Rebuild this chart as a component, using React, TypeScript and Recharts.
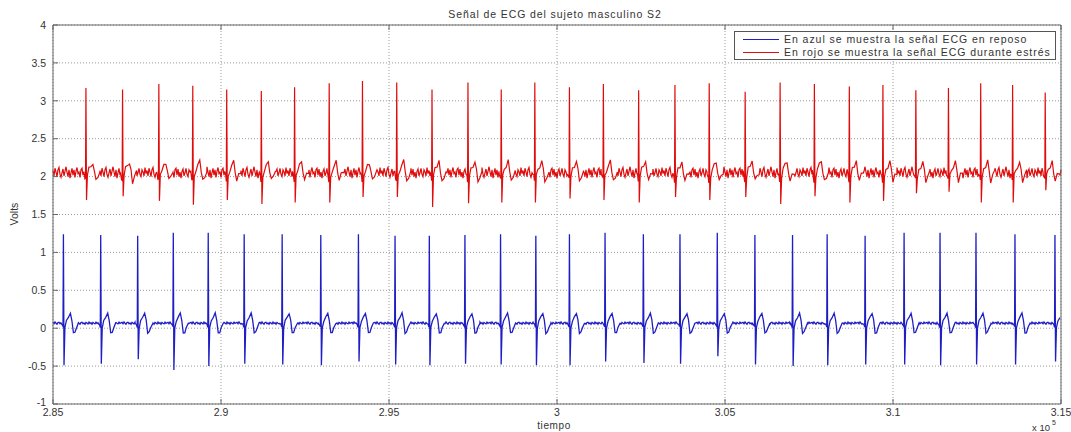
import React from 'react';
import { LineChart, Line, XAxis, YAxis, CartesianGrid, Legend } from 'recharts';

// ---------- data ----------
const xTicks = [2.85, 2.9, 2.95, 3, 3.05, 3.1, 3.15];
const yTicks = [-1, -0.5, 0, 0.5, 1, 1.5, 2, 2.5, 3, 3.5, 4];

const redBeatTimes = [2.8598, 2.8707, 2.8815, 2.8916, 2.9017, 2.912, 2.9219, 2.9322, 2.9421, 2.9523, 2.9628, 2.9735, 2.9834, 2.9934, 3.0037, 3.0138, 3.0243, 3.0351, 3.0453, 3.056, 3.0664, 3.0766, 3.087, 3.097, 3.1068, 3.1165, 3.1261, 3.1356, 3.1453];
const redPeaks = [3.17, 3.15, 3.22, 3.2, 3.15, 3.13, 3.18, 3.23, 3.26, 3.24, 3.15, 3.24, 3.15, 3.24, 3.18, 3.22, 3.14, 3.21, 3.23, 3.12, 3.24, 3.22, 3.19, 3.21, 3.14, 3.17, 3.23, 3.21, 3.11];
const redDips = [1.69, 1.74, 1.68, 1.63, 1.69, 1.64, 1.66, 1.66, 1.73, 1.73, 1.6, 1.65, 1.66, 1.66, 1.71, 1.69, 1.66, 1.73, 1.69, 1.73, 1.64, 1.74, 1.66, 1.68, 1.78, 1.8, 1.66, 1.66, 1.82];
const redBaseline = 2.05;

const blueBeatTimes = [2.8531, 2.8642, 2.8752, 2.8858, 2.8962, 2.9069, 2.9182, 2.9297, 2.9409, 2.9518, 2.962, 2.9726, 2.9832, 2.9937, 3.0037, 3.0143, 3.0257, 3.0366, 3.0477, 3.0589, 3.0701, 3.0804, 3.0917, 3.1033, 3.114, 3.1247, 3.1363, 3.1482];
const bluePeaks = [1.24, 1.23, 1.22, 1.26, 1.26, 1.24, 1.24, 1.23, 1.24, 1.22, 1.22, 1.23, 1.24, 1.22, 1.24, 1.26, 1.24, 1.24, 1.26, 1.23, 1.23, 1.24, 1.22, 1.26, 1.26, 1.26, 1.24, 1.23];
const blueDips = [-0.49, -0.47, -0.41, -0.55, -0.5, -0.47, -0.48, -0.49, -0.44, -0.48, -0.49, -0.47, -0.48, -0.49, -0.49, -0.44, -0.46, -0.47, -0.37, -0.48, -0.5, -0.49, -0.48, -0.48, -0.49, -0.48, -0.48, -0.44];
const blueBaseline = 0.065;

// beat waveform: offsets in screen-pixel steps, values relative to baseline
// (null marks the R peak and S dip, taken from the per-beat arrays)
const redShapeSteps = [-2, -1, -0.4, 0, 0.6, 1.5, 3, 5, 7, 8.5, 10, 12, 14];
const redShapeValues = [0, -0.06, -0.1, null, null, -0.05, 0.04, 0.09, 0.14, 0.02, -0.11, -0.04, 0];
const blueShapeSteps = [-2.5, -1.2, -0.4, 0, 0.6, 1.5, 3, 5, 7, 8.5, 10, 11.5, 13, 15];
const blueShapeValues = [0, -0.02, -0.05, null, null, -0.06, 0.03, 0.08, 0.13, 0.04, -0.13, -0.12, -0.06, 0];

// hand-read baseline ripple
const redRipple = [0.03, -0.04, 0.06, 0.01, -0.05, 0.04, 0.07, -0.02, -0.06, 0.0, 0.05, -0.04, 0.02, 0.08, 0.01, -0.05, 0.04, -0.07, 0.0, 0.06, -0.03, 0.04, -0.06, 0.02, 0.07, -0.01, 0.01, -0.06, 0.04, 0.06, -0.03, 0.05, -0.05, 0.01, -0.07, 0.02, 0.05, -0.04, 0.0, 0.06, -0.02, -0.05, 0.04, 0.01, -0.04, 0.07, -0.01];
const blueRipple = [0.012, -0.006, 0.017, 0.0, -0.012, 0.009, 0.014, -0.007, 0.004, -0.014, 0.011, 0.002, -0.009, 0.016, -0.004, 0.007, -0.012, 0.01, 0.0, -0.007, 0.014, -0.002, 0.006];

const legendLabels = ['En azul se muestra la señal ECG en reposo', 'En rojo se muestra la señal ECG durante estrés'];
const titleText = 'Señal de ECG del sujeto masculino S2';

// ---------- styling ----------
const RED = '#e00c0c';
const BLUE = '#1e1ec4';
const AXIS = '#666';
const TEXT = '#333';
const FONT = '"Liberation Sans", Arial, Helvetica, sans-serif';
const X0 = 2.85;
const X1 = 3.15;
const STEP = (X1 - X0) / 1008;

type Row = { x: number; red?: number; blue?: number };

function buildSeries(
  key: 'red' | 'blue',
  times: number[],
  peaks: number[],
  dips: number[],
  base: number,
  steps: number[],
  values: (number | null)[],
  ripple: number[]
): Row[] {
  const rows: Row[] = [];
  const lo = steps[0] * STEP;
  const hi = steps[steps.length - 1] * STEP;
  for (let i = 0; i <= 1008; i++) {
    const x = X0 + i * STEP;
    if (times.some((t) => x >= t + lo && x <= t + hi)) continue;
    rows.push({ x, [key]: base + ripple[i % ripple.length] });
  }
  times.forEach((t, b) => {
    let spike = 0;
    steps.forEach((s, k) => {
      const x = t + s * STEP;
      if (x < X0 || x > X1) return;
      let v: number;
      const rel = values[k];
      if (rel === null) {
        v = spike === 0 ? peaks[b] : dips[b];
        spike++;
      } else {
        v = base + rel + 0.5 * ripple[(b * 7 + k) % ripple.length];
      }
      rows.push({ x, [key]: v });
    });
  });
  return rows;
}

const data: Row[] = [
  ...buildSeries('red', redBeatTimes, redPeaks, redDips, redBaseline, redShapeSteps, redShapeValues, redRipple),
  ...buildSeries('blue', blueBeatTimes, bluePeaks, blueDips, blueBaseline, blueShapeSteps, blueShapeValues, blueRipple),
].sort((a, b) => a.x - b.x);

const fmt = (v: number) => String(Number(v.toFixed(2)));

const BottomTick = (p: any) => (
  <g>
    <line x1={p.x} y1={p.y} x2={p.x} y2={p.y - 5} stroke={AXIS} />
    <text x={p.x} y={p.y + 12} textAnchor="middle" fontSize={10.5} fill={TEXT} fontFamily={FONT}>
      {fmt(p.payload.value)}
    </text>
  </g>
);
const TopTick = (p: any) => <line x1={p.x} y1={p.y} x2={p.x} y2={p.y + 5} stroke={AXIS} />;
const LeftTick = (p: any) => (
  <g>
    <line x1={p.x} y1={p.y} x2={p.x + 5} y2={p.y} stroke={AXIS} />
    <text
      x={p.x - 7}
      y={p.payload.value === -1 ? p.y + 1.5 : p.y + 3.7}
      textAnchor="end"
      fontSize={10.5}
      fill={TEXT}
      fontFamily={FONT}
    >
      {fmt(p.payload.value)}
    </text>
  </g>
);
const RightTick = (p: any) => <line x1={p.x} y1={p.y} x2={p.x - 5} y2={p.y} stroke={AXIS} />;

const renderLegend = () => (
  <div
    style={{
      boxSizing: 'border-box',
      width: 322,
      height: 29,
      border: '1px solid #555',
      background: '#fff',
      padding: '1px 0 0 8px',
      fontFamily: FONT,
      fontSize: 10.5,
      letterSpacing: 0.95,
      color: TEXT,
      lineHeight: '13px',
      whiteSpace: 'nowrap',
    }}
  >
    {legendLabels.map((l, i) => (
      <div key={l} style={{ display: 'flex', alignItems: 'center', height: 13 }}>
        <span style={{ display: 'inline-block', width: 36, height: 0, borderTop: `1px solid ${i === 0 ? BLUE : RED}`, marginRight: 5 }} />
        <span>{l}</span>
      </div>
    ))}
  </div>
);

export default function App() {
  return (
    <div style={{ position: 'absolute', left: 0, top: 0, width: 1071, height: 432, background: '#fff' }}>
      <LineChart width={1071} height={432} data={data} margin={{ top: 20, right: 5, bottom: 0, left: 13 }}>
        <CartesianGrid xAxisId="bottom" yAxisId="left" stroke="#9a9a9a" strokeDasharray="1 2" />
        <XAxis
          xAxisId="bottom"
          dataKey="x"
          type="number"
          domain={[X0, X1]}
          ticks={xTicks}
          interval={0}
          height={28}
          tickSize={0}
          tickMargin={0}
          tickLine={false}
          axisLine={{ stroke: AXIS }}
          tick={<BottomTick />}
          label={() => (
            <g fontFamily={FONT} fill={TEXT}>
              <text x={554} y={428.5} textAnchor="middle" fontSize={10} letterSpacing={0.6} fill={TEXT}>tiempo</text>
              <text x={1032} y={431} fontSize={9.5} fill={TEXT}>x 10</text>
              <text x={1052} y={425} fontSize={7} fill={TEXT}>5</text>
            </g>
          )}
        />
        <XAxis
          xAxisId="top"
          orientation="top"
          type="number"
          dataKey="x"
          domain={[X0, X1]}
          ticks={xTicks}
          interval={0}
          height={5}
          tickSize={0}
          tickMargin={0}
          tickLine={false}
          axisLine={{ stroke: AXIS }}
          tick={<TopTick />}
          label={() => (
            <text x={555} y={18} textAnchor="middle" fontSize={10.5} letterSpacing={0.9} fill={TEXT} fontFamily={FONT}>
              {titleText}
            </text>
          )}
        />
        <YAxis
          yAxisId="left"
          type="number"
          domain={[-1, 4]}
          ticks={yTicks}
          interval={0}
          width={40}
          tickSize={0}
          tickMargin={0}
          tickLine={false}
          axisLine={{ stroke: AXIS }}
          tick={<LeftTick />}
          label={() => (
            <text x={18} y={214} textAnchor="middle" fontSize={10.5} fill={TEXT} fontFamily={FONT} transform="rotate(-90 18 214)">
              Volts
            </text>
          )}
        />
        <YAxis
          yAxisId="right"
          orientation="right"
          type="number"
          domain={[-1, 4]}
          ticks={yTicks}
          interval={0}
          width={5}
          tickSize={0}
          tickMargin={0}
          tickLine={false}
          axisLine={{ stroke: AXIS }}
          tick={<RightTick />}
        />
        <Line xAxisId="bottom" yAxisId="left" dataKey="blue" type="linear" stroke={BLUE} strokeWidth={1.3} dot={false} activeDot={false} connectNulls isAnimationActive={false} />
        <Line xAxisId="bottom" yAxisId="left" dataKey="red" type="linear" stroke={RED} strokeWidth={1.2} dot={false} activeDot={false} connectNulls isAnimationActive={false} />
        <Legend
          layout="vertical"
          align="center"
          verticalAlign="middle"
          wrapperStyle={{ position: 'absolute', left: 734, top: 31, width: 322, height: 29 }}
          content={renderLegend}
        />
      </LineChart>
    </div>
  );
}
